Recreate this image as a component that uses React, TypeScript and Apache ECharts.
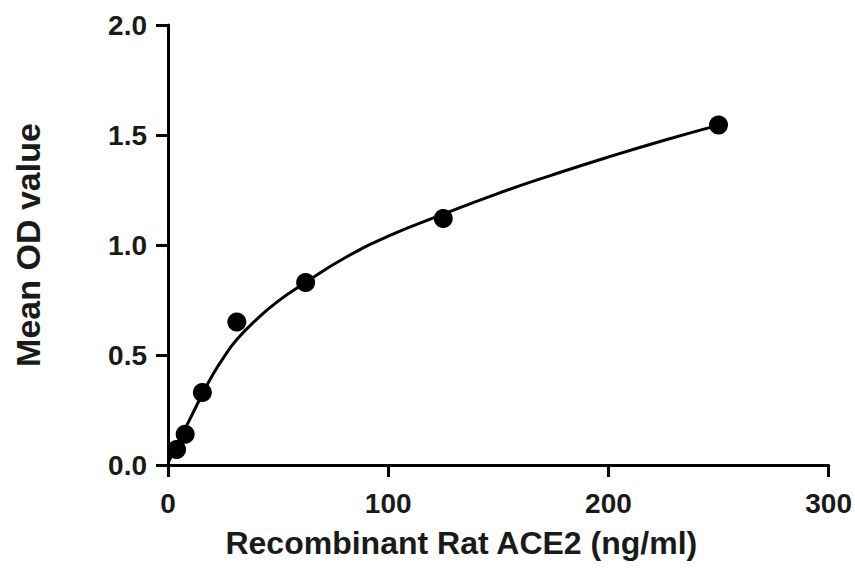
import React, { useEffect, useRef } from "react";
import * as echarts from "echarts";

// Measured standards: concentration (ng/ml) and mean OD
const standardConc = [3.9, 7.8, 15.6, 31.25, 62.5, 125, 250];
const standardOD = [0.07, 0.14, 0.33, 0.65, 0.83, 1.12, 1.545];

// Fitted curve
const curveConc = [0, 4, 8, 12, 16, 20, 25, 31.25, 40, 50, 62.5, 80, 100, 125, 150, 175, 200, 225, 250];
const curveOD = [0.01, 0.09, 0.17, 0.25, 0.33, 0.405, 0.485, 0.57, 0.66, 0.745, 0.83, 0.94, 1.04, 1.14, 1.235, 1.32, 1.4, 1.475, 1.545];

const xTicks = [0, 100, 200, 300];
const yTicks = [0, 0.5, 1.0, 1.5, 2.0];

const xTitle = "Recombinant Rat ACE2 (ng/ml)";
const yTitle = "Mean OD value";

const FONT = "'Liberation Sans', Arial, Helvetica, sans-serif";
const INK = "#1a1a1a";

export default function App() {
  const ref = useRef<HTMLDivElement>(null);

  useEffect(() => {
    document.body.style.margin = "0";
    if (!ref.current) return;
    const chart = echarts.init(ref.current, undefined, { renderer: "svg" });
    const axisCommon = {
      axisLine: { show: true, lineStyle: { color: "#000", width: 3 } },
      axisTick: { show: true, inside: false, length: 12, lineStyle: { color: "#000", width: 3 } },
      splitLine: { show: false },
      nameLocation: "middle" as const,
    };
    chart.setOption({
      animation: false,
      backgroundColor: "#ffffff",
      grid: { left: 168, right: 25, top: 25, bottom: 106, containLabel: false },
      xAxis: {
        type: "value",
        min: xTicks[0],
        max: xTicks[xTicks.length - 1],
        interval: xTicks[1] - xTicks[0],
        ...axisCommon,
        axisLabel: {
          margin: 24,
          color: INK,
          fontFamily: FONT,
          fontSize: 28,
          fontWeight: "bold",
          showMinLabel: true,
          showMaxLabel: true,
        },
        name: xTitle,
        nameGap: 62,
        nameTextStyle: {
          color: INK,
          fontFamily: FONT,
          fontSize: 32,
          fontWeight: "bold",
          padding: [0, 74, 0, 0],
        },
      },
      yAxis: {
        type: "value",
        min: yTicks[0],
        max: yTicks[yTicks.length - 1],
        interval: yTicks[1] - yTicks[0],
        ...axisCommon,
        axisLabel: {
          margin: 21,
          color: INK,
          fontFamily: FONT,
          fontSize: 28,
          fontWeight: "bold",
          formatter: (v: number) => v.toFixed(1),
          showMinLabel: true,
          showMaxLabel: true,
        },
        name: yTitle,
        nameGap: 123,
        nameTextStyle: {
          color: INK,
          fontFamily: FONT,
          fontSize: 34,
          fontWeight: "bold",
        },
      },
      series: [
        {
          type: "line",
          data: curveConc.map((x, i) => [x, curveOD[i]]),
          smooth: 0.5,
          showSymbol: false,
          symbol: "none",
          lineStyle: { color: "#000", width: 3 },
          z: 2,
        },
        {
          type: "scatter",
          data: standardConc.map((x, i) => [x, standardOD[i]]),
          symbol: "circle",
          symbolSize: 19,
          itemStyle: { color: "#000", opacity: 1 },
          z: 3,
        },
      ],
    });
    return () => chart.dispose();
  }, []);

  return <div ref={ref} style={{ width: 855, height: 571 }} />;
}
